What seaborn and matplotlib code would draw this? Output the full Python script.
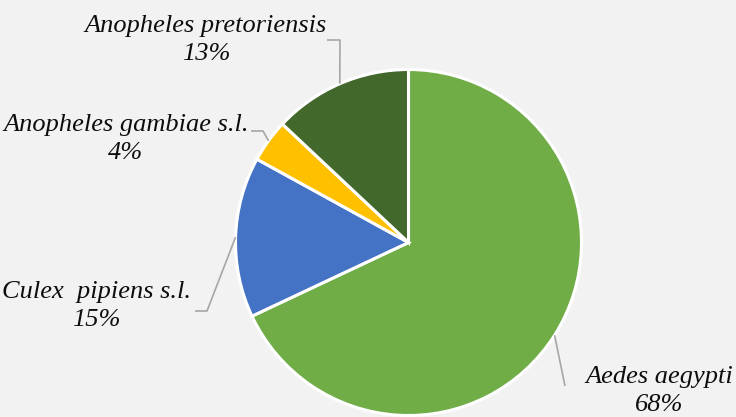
import numpy as np
import matplotlib
matplotlib.use("Agg")
import matplotlib.pyplot as plt
import seaborn as sns

species = ["Aedes aegypti", "Culex  pipiens s.l.", "Anopheles gambiae s.l.", "Anopheles pretoriensis"]
shares = [68, 15, 4, 13]
colors = ["#70AD47", "#4472C4", "#FFC000", "#43682B"]

# label block centre and leader elbow, in pixels (top-left origin)
label_pos = [(659, 391), (96, 306), (126, 139), (206, 40)]
elbows = [[(565, 386)], [(207, 311), (195, 311)], [(263, 131), (251, 131)], [(340, 40), (327, 40)]]

W, H = 736, 417
bg = "#F2F2F2"

sns.set_theme(style="white")
plt.rcParams["font.family"] = ["Liberation Serif", "DejaVu Serif"]

fig = plt.figure(figsize=(W / 100, H / 100), dpi=100, facecolor=bg)
ax = fig.add_axes([0, 0, 1, 1])
ax.set_facecolor(bg)

cx, cy, r = 408.5, H - 242.5, 173

wedges, _ = ax.pie(shares, colors=colors, startangle=90, counterclock=False,
                   center=(cx, cy), radius=r, frame=True,
                   wedgeprops=dict(edgecolor="white", linewidth=2.2))
ax.set_xlim(0, W)
ax.set_ylim(0, H)
ax.set_aspect("equal")
ax.axis("off")

for w, name, val, (lx, ly), elb in zip(wedges, species, shares, label_pos, elbows):
    mid = np.deg2rad((w.theta1 + w.theta2) / 2)
    sx, sy = cx + r * np.cos(mid), cy + r * np.sin(mid)
    xs = [sx] + [p[0] for p in elb]
    ys = [sy] + [H - p[1] for p in elb]
    ax.plot(xs, ys, color="#A6A6A6", lw=1.2, solid_capstyle="butt")
    ax.text(lx, H - ly, f"{name}\n{val}%", ha="center", va="center",
            multialignment="center", fontsize=19, style="italic",
            color="#0D0D0D", linespacing=1.32)

fig.savefig("out.png", dpi=100, facecolor=bg)
